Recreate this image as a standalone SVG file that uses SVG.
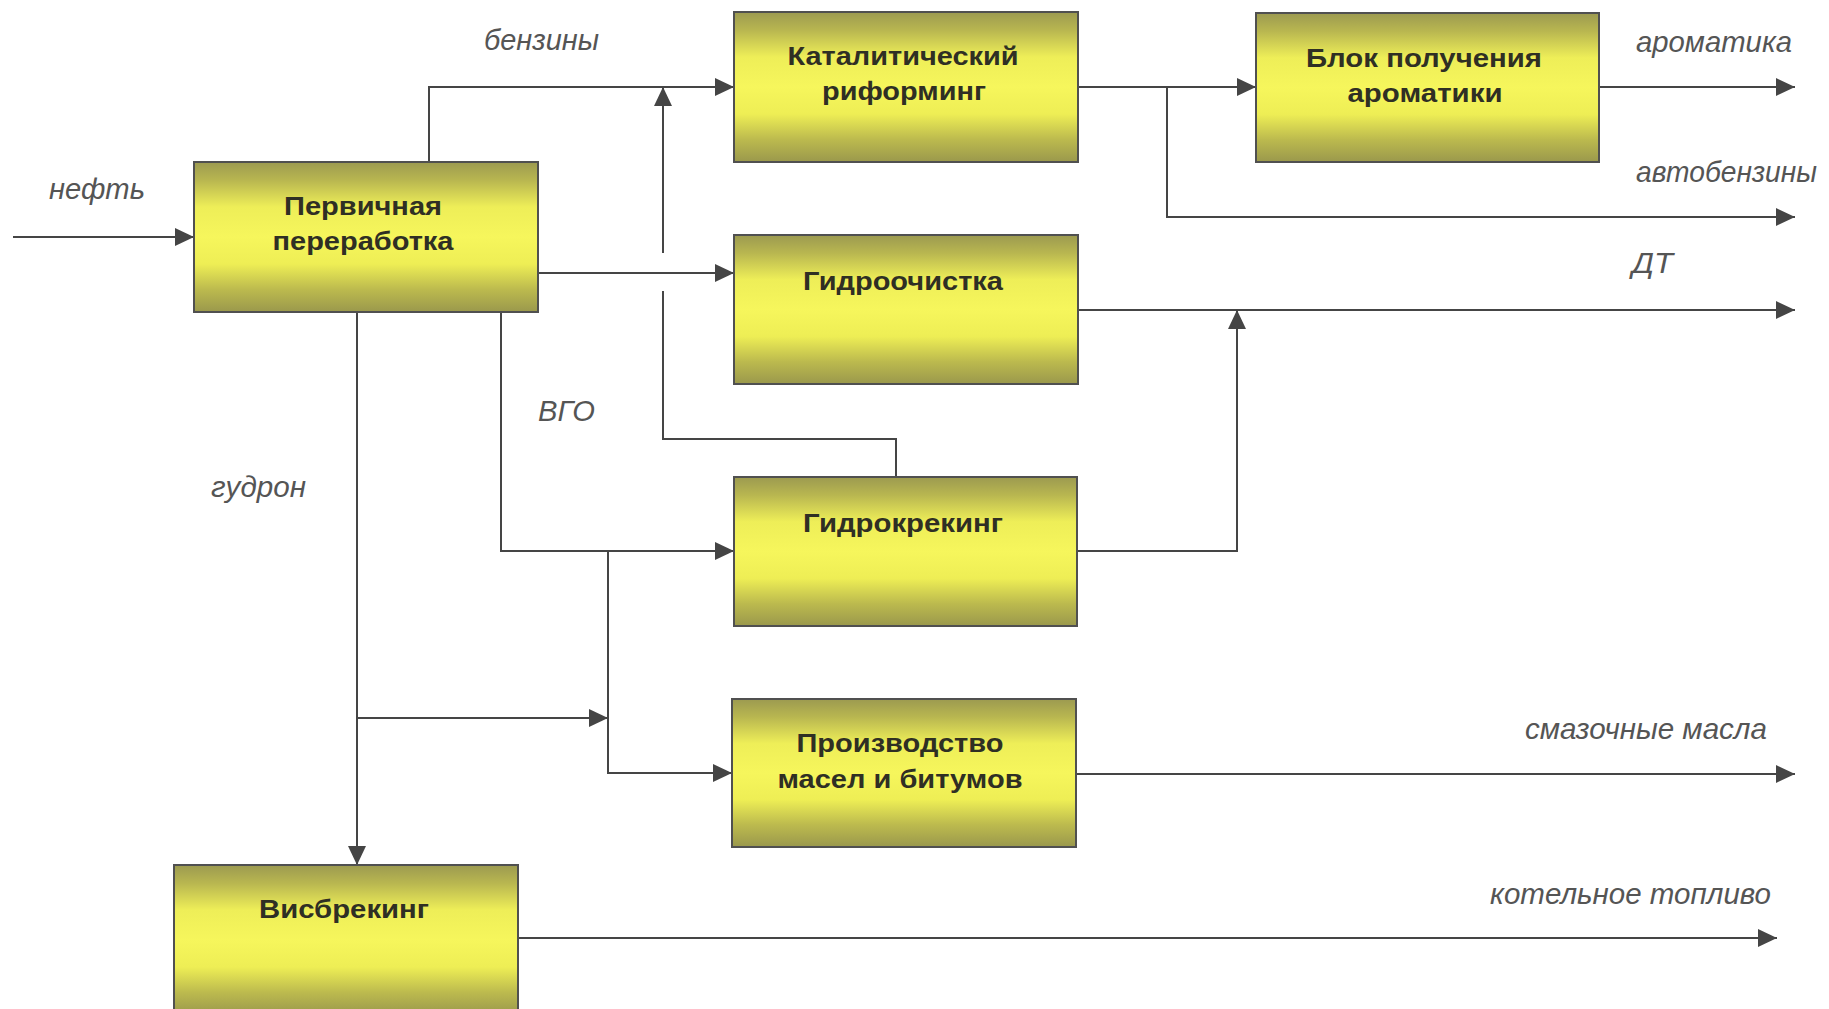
<svg xmlns="http://www.w3.org/2000/svg" width="1829" height="1009" viewBox="0 0 1829 1009">
<style>
.box{stroke:#505050;stroke-width:2;fill:url(#g)}
.bt{font-family:"Liberation Sans",Arial,sans-serif;font-weight:bold;font-size:26px;fill:#2f2f24;text-anchor:middle}
.lb{font-family:"Liberation Sans",Arial,sans-serif;font-style:italic;font-size:29px;fill:#555}
.c{fill:none;stroke:#454545;stroke-width:2}
</style>
<defs>
<linearGradient id="g" x1="0" y1="0" x2="0" y2="1">
<stop offset="0" stop-color="#9c9a50"/>
<stop offset="0.12" stop-color="#b8b650"/>
<stop offset="0.3" stop-color="#eeee58"/>
<stop offset="0.5" stop-color="#f6f65c"/>
<stop offset="0.68" stop-color="#eeee55"/>
<stop offset="0.85" stop-color="#bcba4e"/>
<stop offset="1" stop-color="#9a984c"/>
</linearGradient>
<marker id="a" markerUnits="userSpaceOnUse" markerWidth="19" markerHeight="18" refX="19" refY="9" orient="auto">
<path d="M0,0 L19,9 L0,18 z" fill="#454545"/>
</marker>
</defs>
<rect width="1829" height="1009" fill="#fff"/>
<g id="connectors">
<path class="c" d="M13,237 H194" marker-end="url(#a)"/>
<path class="c" d="M429,162 V87 H734" marker-end="url(#a)"/>
<path class="c" d="M538,273 H734" marker-end="url(#a)"/>
<path class="c" d="M896,477 V439 H663 V291"/>
<path class="c" d="M663,253 V87" marker-end="url(#a)"/>
<path class="c" d="M1078,87 H1256" marker-end="url(#a)"/>
<path class="c" d="M1167,87 V217 H1795" marker-end="url(#a)"/>
<path class="c" d="M1599,87 H1795" marker-end="url(#a)"/>
<path class="c" d="M1078,310 H1795" marker-end="url(#a)"/>
<path class="c" d="M1077,551 H1237 V310" marker-end="url(#a)"/>
<path class="c" d="M501,312 V551 H734" marker-end="url(#a)"/>
<path class="c" d="M608,551 V773 H732" marker-end="url(#a)"/>
<path class="c" d="M357,312 V865" marker-end="url(#a)"/>
<path class="c" d="M357,718 H608" marker-end="url(#a)"/>
<path class="c" d="M1076,774 H1795" marker-end="url(#a)"/>
<path class="c" d="M518,938 H1777" marker-end="url(#a)"/>
</g>
<g id="primary">
<rect class="box" x="194" y="162" width="344" height="150"/>
<text class="bt" x="363" y="215" textLength="158" lengthAdjust="spacingAndGlyphs">Первичная</text>
<text class="bt" x="363" y="250" textLength="181" lengthAdjust="spacingAndGlyphs">переработка</text>
</g>
<g id="catalytic">
<rect class="box" x="734" y="12" width="344" height="150"/>
<text class="bt" x="903" y="65" textLength="231" lengthAdjust="spacingAndGlyphs">Каталитический</text>
<text class="bt" x="904" y="100" textLength="164" lengthAdjust="spacingAndGlyphs">риформинг</text>
</g>
<g id="aromatics">
<rect class="box" x="1256" y="13" width="343" height="149"/>
<text class="bt" x="1424" y="67" textLength="236" lengthAdjust="spacingAndGlyphs">Блок получения</text>
<text class="bt" x="1425" y="102" textLength="155" lengthAdjust="spacingAndGlyphs">ароматики</text>
</g>
<g id="hydrotreating">
<rect class="box" x="734" y="235" width="344" height="149"/>
<text class="bt" x="903" y="290" textLength="200" lengthAdjust="spacingAndGlyphs">Гидроочистка</text>
</g>
<g id="hydrocracking">
<rect class="box" x="734" y="477" width="343" height="149"/>
<text class="bt" x="903" y="532" textLength="200" lengthAdjust="spacingAndGlyphs">Гидрокрекинг</text>
</g>
<g id="oils">
<rect class="box" x="732" y="699" width="344" height="148"/>
<text class="bt" x="900" y="752" textLength="207" lengthAdjust="spacingAndGlyphs">Производство</text>
<text class="bt" x="900" y="788" textLength="245" lengthAdjust="spacingAndGlyphs">масел и битумов</text>
</g>
<g id="visbreaking">
<rect class="box" x="174" y="865" width="344" height="150"/>
<text class="bt" x="344" y="918" textLength="170" lengthAdjust="spacingAndGlyphs">Висбрекинг</text>
</g>
<g id="labels">
<text class="lb" x="49" y="199" textLength="96" lengthAdjust="spacingAndGlyphs">нефть</text>
<text class="lb" x="484" y="50" textLength="115" lengthAdjust="spacingAndGlyphs">бензины</text>
<text class="lb" x="1636" y="52" textLength="156" lengthAdjust="spacingAndGlyphs">ароматика</text>
<text class="lb" x="1636" y="182" textLength="181" lengthAdjust="spacingAndGlyphs">автобензины</text>
<text class="lb" x="1632" y="273" textLength="41" lengthAdjust="spacingAndGlyphs">ДТ</text>
<text class="lb" x="538" y="421" textLength="57" lengthAdjust="spacingAndGlyphs">ВГО</text>
<text class="lb" x="211" y="497" textLength="95" lengthAdjust="spacingAndGlyphs">гудрон</text>
<text class="lb" x="1525" y="739" textLength="242" lengthAdjust="spacingAndGlyphs">смазочные масла</text>
<text class="lb" x="1490" y="904" textLength="281" lengthAdjust="spacingAndGlyphs">котельное топливо</text>
</g>
</svg>
